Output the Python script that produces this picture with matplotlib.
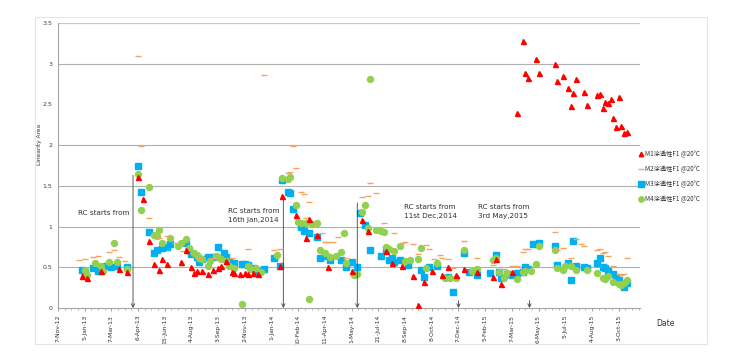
import matplotlib
matplotlib.use("Agg")
import matplotlib.pyplot as plt
from matplotlib.patches import Rectangle

plt.rcParams['font.family'] = ['DejaVu Sans']

# ---------------- data (sample index on a category axis, value) ----------------
tick_labels = ["7-Nov-12", "5-Jan-13", "7-Mar-13", "6-Apr-13", "15-Jun-13", "4-Aug-13",
               "3-Sep-13", "2-Nov-13", "1-Jan-14", "10-Feb-14", "11-Apr-14", "1-May-14",
               "21-Jul-14", "8-Sep-14", "8-Oct-14", "7-Dec-14", "5-Feb-15", "7-Mar-15",
               "6-May-15", "5-Jul-15", "4-Aug-15", "3-Oct-15"]

series_names = ["M1涂透性F1 @20°C", "M2涂透性F1 @20°C", "M3涂透性F1 @20°C", "M4涂透性F1 @20°C"]

red_x = [9, 11, 16, 23, 26, 30, 32, 34, 36, 38,
         39, 41, 46, 48, 50, 51, 52, 54, 56, 58,
         60, 61, 63, 65, 66, 68, 70, 71, 73, 75,
         83, 84, 89, 93, 94, 97, 101, 110, 114, 116,
         123, 125, 129, 133, 135, 137, 140, 144, 146, 149,
         152, 157, 163, 164, 166, 170, 172, 174, 175, 176,
         179, 180, 186, 187, 189, 191, 192, 193, 194, 197,
         198, 202, 203, 204, 205, 206, 207, 208, 209, 210,
         211, 212, 213]
red_y = [0.39, 0.37, 0.45, 0.48, 0.44, 1.61, 1.34, 0.82, 0.54, 0.47,
         0.60, 0.54, 0.57, 0.71, 0.50, 0.43, 0.45, 0.45, 0.42, 0.47,
         0.49, 0.52, 0.58, 0.44, 0.43, 0.42, 0.43, 0.42, 0.43, 0.42,
         0.52, 1.37, 1.14, 0.86, 1.09, 0.90, 0.50, 0.45, 1.08, 0.94,
         0.70, 0.55, 0.52, 0.39, 0.04, 0.32, 0.45, 0.40, 0.50, 0.40,
         0.48, 0.44, 0.38, 0.60, 0.30, 0.44, 2.40, 3.28, 2.88, 2.82,
         3.06, 2.89, 3.00, 2.79, 2.85, 2.70, 2.48, 2.64, 2.81, 2.65,
         2.49, 2.61, 2.63, 2.46, 2.53, 2.52, 2.57, 2.33, 2.22, 2.59,
         2.24, 2.15, 2.16]

orange_x = [8, 10, 13, 15, 17, 19, 21, 23, 25, 30,
            31, 34, 38, 41, 44, 47, 49, 53, 58, 61,
            65, 71, 77, 81, 83, 86, 87, 88, 89, 91,
            92, 93, 94, 97, 99, 100, 101, 103, 105, 108,
            114, 116, 117, 119, 122, 126, 129, 130, 133, 135,
            138, 139, 141, 143, 144, 146, 148, 152, 157, 163,
            167, 170, 172, 174, 175, 176, 186, 187, 189, 192,
            194, 196, 197, 202, 203, 204, 205, 206, 208, 210,
            211, 212, 213]
orange_y = [0.59, 0.60, 0.63, 0.64, 0.45, 0.69, 0.71, 0.63, 0.58, 3.10,
            1.99, 1.10, 0.86, 0.88, 0.80, 0.70, 0.67, 0.62, 0.62, 0.58,
            0.61, 0.73, 2.86, 0.71, 0.73, 1.66, 1.67, 1.99, 1.72, 1.42,
            1.40, 1.10, 1.30, 1.02, 0.92, 0.81, 0.81, 0.81, 0.87, 0.61,
            1.36, 1.37, 1.53, 1.41, 1.05, 0.92, 0.80, 0.81, 0.78, 0.66,
            0.77, 0.72, 0.60, 0.65, 0.62, 0.60, 0.49, 0.82, 0.61, 0.53,
            0.48, 0.52, 0.52, 0.69, 0.73, 0.72, 0.93, 0.71, 0.74, 0.62,
            0.85, 0.78, 0.76, 0.71, 0.72, 0.67, 0.69, 0.64, 0.52, 0.42,
            0.41, 0.42, 0.61]

blue_x = [9, 10, 13, 15, 16, 18, 20, 22, 26, 30,
          31, 34, 36, 37, 39, 41, 42, 48, 49, 50,
          52, 53, 54, 56, 58, 60, 62, 63, 64, 66,
          69, 70, 71, 73, 75, 77, 81, 83, 84, 86,
          87, 88, 91, 92, 94, 97, 98, 100, 102, 106,
          108, 110, 112, 113, 115, 117, 121, 123, 124, 125,
          126, 128, 131, 136, 137, 139, 142, 146, 148, 152,
          154, 157, 162, 164, 165, 166, 168, 170, 172, 174,
          175, 176, 178, 180, 186, 187, 191, 192, 193, 194,
          197, 198, 202, 203, 204, 205, 206, 208, 209, 210,
          212, 213]
blue_y = [0.47, 0.44, 0.49, 0.45, 0.48, 0.52, 0.50, 0.52, 0.50, 1.75,
          1.43, 0.93, 0.67, 0.71, 0.74, 0.75, 0.79, 0.80, 0.71, 0.66,
          0.63, 0.57, 0.60, 0.63, 0.63, 0.75, 0.68, 0.63, 0.57, 0.55,
          0.54, 0.54, 0.53, 0.49, 0.46, 0.48, 0.61, 0.52, 1.57, 1.42,
          1.41, 1.22, 1.00, 0.95, 0.92, 0.87, 0.61, 0.64, 0.59, 0.59,
          0.50, 0.56, 0.50, 1.17, 1.02, 0.71, 0.64, 0.72, 0.59, 0.62,
          0.57, 0.59, 0.53, 0.47, 0.38, 0.50, 0.52, 0.38, 0.20, 0.67,
          0.44, 0.40, 0.43, 0.65, 0.44, 0.37, 0.42, 0.40, 0.43, 0.44,
          0.50, 0.48, 0.79, 0.80, 0.76, 0.53, 0.55, 0.34, 0.82, 0.51,
          0.50, 0.49, 0.55, 0.61, 0.50, 0.49, 0.45, 0.42, 0.38, 0.35,
          0.26, 0.31]

green_x = [10, 11, 14, 16, 17, 19, 21, 22, 26, 30,
           31, 34, 36, 37, 38, 39, 42, 45, 46, 48,
           49, 51, 52, 53, 54, 56, 57, 59, 60, 61,
           63, 64, 66, 69, 71, 72, 74, 76, 82, 84,
           86, 87, 89, 90, 91, 93, 94, 95, 97, 98,
           100, 102, 104, 106, 107, 108, 111, 112, 114, 115,
           116, 117, 119, 121, 122, 123, 124, 126, 128, 130,
           132, 135, 136, 138, 142, 145, 147, 149, 152, 155,
           157, 163, 164, 165, 167, 168, 172, 174, 175, 177,
           179, 180, 186, 187, 189, 190, 192, 194, 198, 202,
           204, 205, 206, 208, 210, 211, 212, 213]
green_y = [0.47, 0.40, 0.55, 0.51, 0.46, 0.56, 0.80, 0.56, 0.48, 1.65,
           1.20, 1.48, 0.90, 0.89, 0.96, 0.80, 0.86, 0.76, 0.80, 0.85,
           0.74, 0.67, 0.65, 0.61, 0.60, 0.52, 0.58, 0.64, 0.63, 0.60,
           0.58, 0.51, 0.49, 0.05, 0.52, 0.48, 0.49, 0.44, 0.65, 1.60,
           1.58, 1.61, 1.26, 1.06, 1.04, 1.05, 0.11, 1.03, 1.04, 0.71,
           0.67, 0.63, 0.64, 0.69, 0.92, 0.55, 0.40, 0.42, 1.18, 1.26,
           0.98, 2.81, 0.96, 0.94, 0.93, 0.75, 0.73, 0.70, 0.76, 0.58,
           0.59, 0.60, 0.74, 0.49, 0.55, 0.37, 0.37, 0.37, 0.71, 0.46,
           0.48, 0.59, 0.61, 0.44, 0.37, 0.43, 0.36, 0.44, 0.45, 0.46,
           0.54, 0.76, 0.71, 0.49, 0.47, 0.51, 0.51, 0.47, 0.47, 0.43,
           0.37, 0.36, 0.39, 0.32, 0.30, 0.28, 0.31, 0.34]

# RC start annotations: (text x, text y, text) and arrows (x, top y)
notes = [(7.5, 1.20, "RC starts from"),
         (63.5, 1.23, "RC starts from\n16th Jan,2014"),
         (129.5, 1.28, "RC starts from\n11st Dec,2014"),
         (157.5, 1.28, "RC starts from\n3rd May,2015")]
arrows = [(28.1, 1.63), (84.4, 1.36), (112.1, 1.29), (150.0, 0.09), (176.6, 0.09)]

# ---------------- figure ----------------
W, H = 740, 353
fig = plt.figure(figsize=(W / 100, H / 100), dpi=100)
fig.patches.append(Rectangle((35 / W, 1 - 344 / H), (707 - 35) / W, (344 - 17) / H,
                             transform=fig.transFigure, fill=False,
                             edgecolor="#e6e6e6", lw=0.8))

ax = fig.add_axes([58 / W, 1 - 308 / H, (640 - 58) / W, (308 - 23) / H])
ax.set_xlim(0, 218)
ax.set_ylim(0, 3.5)

for s in ["top", "right"]:
    ax.spines[s].set_visible(False)
for s in ["left", "bottom"]:
    ax.spines[s].set_color("#a6a6a6")
    ax.spines[s].set_linewidth(0.8)

yt = [0, 0.5, 1, 1.5, 2, 2.5, 3, 3.5]
ax.set_yticks(yt)
ax.set_yticklabels(["0", "0.5", "1", "1.5", "2", "2.5", "3", "3.5"], fontsize=4.5, color="#404040")
for v in [0.5, 1, 1.5, 2, 3]:
    ax.axhline(v, color="#b0b0b0", lw=0.8, zorder=0)
ax.axhline(3.5, color="#c8c8c8", lw=1.6, zorder=0)
ax.tick_params(axis="y", length=0, pad=4)

ax.set_xticks(range(0, 220, 10))
ax.set_xticklabels(tick_labels, rotation=90, fontsize=4.3, color="#303030", va="top")
ax.set_xticks([i * 2.5 for i in range(88)], minor=True)
ax.tick_params(axis="x", which="major", length=2, color="#a6a6a6", pad=3)
ax.tick_params(axis="x", which="minor", length=1.5, color="#a6a6a6")

ax.plot(red_x, red_y, ls="none", marker="^", ms=3.6, color="#ff0000", mec="#ff0000",
        label=series_names[0], zorder=5)
ax.plot(orange_x, orange_y, ls="none", marker="_", ms=5, mew=1.0, color="#f7a35c",
        label=series_names[1], zorder=4)
ax.plot(blue_x, blue_y, ls="none", marker="s", ms=4.3, color="#00b0f0", mec="#00b0f0",
        label=series_names[2], zorder=3)
ax.plot(green_x, green_y, ls="none", marker="o", ms=4.3, color="#92d050", mec="#92d050",
        label=series_names[3], zorder=3)

for tx, ty, t in notes:
    ax.text(tx, ty, t, fontsize=5.2, color="#303030", va="top", ha="left", linespacing=1.6)
for axx, top in arrows:
    ax.annotate("", xy=(axx, 0.0), xytext=(axx, top),
                arrowprops=dict(arrowstyle="->", color="#404040", lw=0.6,
                                shrinkA=0, shrinkB=0, mutation_scale=6))

ax.text(-0.032, 0.575, "Linearity Area", transform=ax.transAxes, rotation=90,
        fontsize=4.2, color="#303030", ha="center", va="center")
fig.text(656 / W, 1 - 323 / H, "Date", fontsize=5.5, color="#303030", ha="left", va="center")

leg = fig.legend(loc="upper left", bbox_to_anchor=(638 / W, 1 - 150 / H), frameon=False,
                 prop={"family": ["Noto Sans CJK SC", "DejaVu Sans"], "size": 4.5},
                 handlelength=0.8, handletextpad=0.3, labelspacing=1.15, markerscale=0.9,
                 borderaxespad=0, borderpad=0)
for t in leg.get_texts():
    t.set_color("#303030")

fig.savefig("out.png", dpi=100)
